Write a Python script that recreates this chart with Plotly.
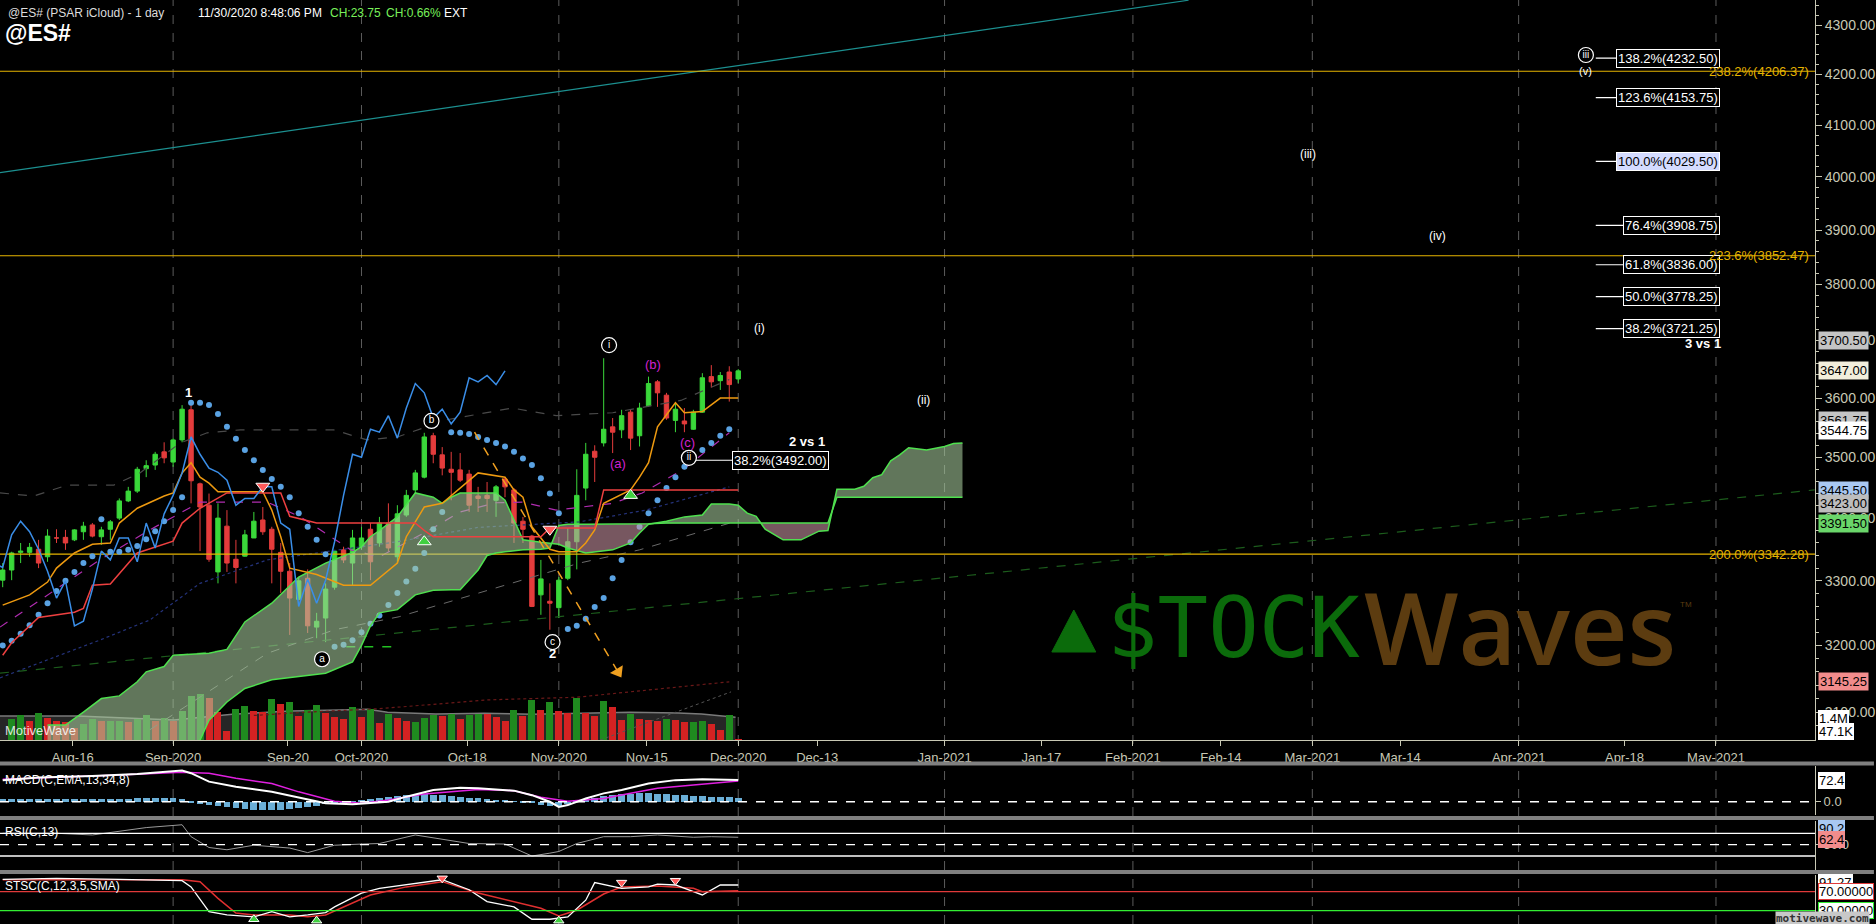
import numpy as np
import pandas as pd
import plotly.graph_objects as go

# ---------------- bar calendar ----------------
hist_days = pd.bdate_range("2020-08-03", "2020-12-01")
hist_days = hist_days[~hist_days.isin(pd.to_datetime(["2020-09-07", "2020-11-26"]))]
future_days = pd.bdate_range("2020-12-02", "2021-06-30")
all_days = hist_days.append(future_days)


def bar_pos(d):
    return float(all_days.searchsorted(pd.Timestamp(d)))


X_RANGE = [1.70, 204.04]

# ---------------- daily bars (Aug 5 2020 ... Dec 1 2020 session) ----------------
opens = [3301, 3317, 3345, 3345, 3350, 3338, 3368, 3369, 3365, 3378,
         3389, 3370, 3382, 3400, 3428, 3444, 3481, 3487, 3509, 3492,
         3529, 3580, 3456, 3421, 3314, 3387, 3334, 3339, 3368, 3397,
         3382, 3345, 3315, 3271, 3304, 3228, 3242, 3290, 3349, 3328,
         3354, 3382, 3360, 3392, 3338, 3405, 3446, 3467, 3536, 3504,
         3480, 3479, 3472, 3436, 3437, 3429, 3464, 3446, 3395, 3371,
         3278, 3268, 3258, 3304, 3362, 3449, 3510, 3524, 3551, 3546,
         3576, 3536, 3587, 3628, 3605, 3562, 3561, 3547, 3576, 3637,
         3630, 3645, 3633]
highs = [3328, 3346, 3360, 3360, 3365, 3382, 3382, 3381, 3382, 3394,
         3392, 3386, 3397, 3432, 3451, 3484, 3495, 3509, 3525, 3532,
         3588, 3593, 3458, 3440, 3424, 3413, 3365, 3381, 3410, 3418,
         3386, 3360, 3328, 3306, 3318, 3250, 3296, 3349, 3354, 3381,
         3386, 3392, 3402, 3424, 3421, 3446, 3479, 3541, 3541, 3517,
         3509, 3507, 3479, 3451, 3459, 3454, 3466, 3449, 3402, 3373,
         3333, 3296, 3306, 3384, 3480, 3524, 3520, 3669, 3566, 3580,
         3580, 3592, 3637, 3631, 3609, 3592, 3583, 3580, 3643, 3657,
         3645, 3655, 3650]
lows = [3290, 3301, 3328, 3338, 3320, 3330, 3360, 3349, 3363, 3365,
        3369, 3357, 3365, 3397, 3426, 3441, 3467, 3479, 3490, 3484,
        3525, 3424, 3347, 3330, 3296, 3314, 3296, 3338, 3368, 3373,
        3296, 3281, 3216, 3270, 3219, 3211, 3205, 3286, 3328, 3292,
        3349, 3301, 3354, 3346, 3328, 3402, 3441, 3465, 3490, 3470,
        3429, 3459, 3410, 3410, 3410, 3402, 3434, 3360, 3360, 3259,
        3247, 3224, 3242, 3301, 3318, 3429, 3459, 3518, 3507, 3532,
        3512, 3518, 3585, 3585, 3563, 3542, 3542, 3546, 3575, 3618,
        3614, 3594, 3626]
closes = [3317, 3344, 3347, 3353, 3328, 3371, 3368, 3360, 3381, 3387,
          3371, 3381, 3394, 3428, 3444, 3480, 3486, 3505, 3499, 3529,
          3581, 3461, 3418, 3334, 3400, 3328, 3321, 3373, 3395, 3378,
          3350, 3315, 3273, 3300, 3230, 3237, 3287, 3347, 3333, 3368,
          3368, 3330, 3392, 3352, 3407, 3437, 3474, 3534, 3505, 3482,
          3475, 3462, 3421, 3432, 3432, 3451, 3451, 3392, 3382, 3260,
          3303, 3265, 3301, 3362, 3437, 3505, 3500, 3547, 3542, 3570,
          3532, 3583, 3625, 3609, 3566, 3581, 3556, 3576, 3635, 3628,
          3639, 3623.25, 3647]
bar_x = bar_pos("2020-08-05") + np.arange(len(opens))

# volume (thousands), bars from Aug 6
volume_k = [1320, 1590, 1230, 1700, 1420, 1210, 1130, 780, 1020, 1340,
            1230, 1230, 1230, 1160, 1320, 1590, 1230, 1420, 1230, 1840,
            2800, 2930, 2690, 1800, 590, 1950, 2160, 1840, 1780, 2610,
            2290, 2400, 1550, 1910, 2230, 1700, 1480, 1340, 2080, 1480,
            1950, 1100, 1670, 1420, 1210, 1140, 1400, 1590, 1550, 1650,
            1350, 1570, 1650, 1650, 1480, 1230, 1910, 1550, 2540, 1910,
            2420, 1840, 1700, 2670, 1700, 1550, 2480, 2120, 1270, 1670,
            1340, 1270, 1210, 1340, 1270, 1140, 1140, 1210, 1040, 640,
            1590, 47]
volume_dir = ("GGRGRRRRGG" "RGGRGGRGRG" "GGRRRGGRRG" "RGRGGRRRGR" "GRGRRGGGRG"
              "RGGRRRGRGR" "GRRGRRGRRG" "RRRGRRGGRR" "GR")
vol_x = bar_pos("2020-08-06") + np.arange(len(volume_k))
vol_avg_x = [1.7, 10.3, 21.1, 27.6, 34.1, 39.5, 42.7, 44.9, 50.3, 55.7, 61.1, 66.5, 71.9, 77.3, 79.9, 83.7]
vol_avg_k = [1526, 1526, 1272, 1632, 1844, 1908, 1950, 1760, 1654, 1696, 1632, 1696, 1760, 1717, 1654, 1442]

# parabolic SAR (Aug 5 .. Nov 30)
psar = [3200, 3207, 3218, 3231, 3247, 3265, 3284, 3300, 3314, 3328,
        3339, 3398, 3346, 3346, 3349, 3355, 3366, 3379, 3395, 3413,
        3434, 3592, 3592, 3588, 3573, 3551, 3531, 3512, 3495, 3479,
        3464, 3451, 3434, 3408, 3386, 3365, 3342, 3198, 3201, 3208,
        3220, 3233, 3246, 3262, 3281, 3299, 3319, 3344, 3382, 3410,
        3542, 3541, 3539, 3534, 3529, 3524, 3518, 3509, 3498, 3487,
        3465, 3440, 3408, 3225, 3230, 3241, 3259, 3273, 3304, 3333,
        3361, 3386, 3408, 3429, 3449, 3467, 3484, 3499, 3512, 3524,
        3536, 3547]
psar_x = bar_pos("2020-08-05") + np.arange(len(psar))

# Ichimoku conversion / base lines
tenkan_x = [2, 5, 7, 8, 10, 12, 14, 15, 17, 20, 21, 22, 23, 24, 25, 26, 31, 32, 33, 34,
            37, 40, 43, 44, 46, 47, 49, 51, 55, 58, 59, 60, 61, 63, 64, 66, 67, 68, 69, 72,
            73, 74, 75, 77, 78, 80, 82, 84]
tenkan = [3262, 3278, 3298, 3320, 3344, 3358, 3360, 3392, 3416, 3436, 3441, 3474, 3491, 3467, 3457, 3443, 3443, 3413, 3370, 3320,
          3310, 3293, 3293, 3305, 3328, 3370, 3418, 3424, 3474, 3467, 3446, 3434, 3386, 3350, 3346, 3346, 3360, 3381, 3424, 3446,
          3467, 3491, 3551, 3592, 3575, 3577, 3600, 3600]
kijun_x = [2, 3, 6, 10, 11, 12, 14, 17, 21, 22, 24, 27, 33, 34, 37, 48, 49, 50, 62, 63, 68, 69, 84]
kijun = [3185, 3204, 3243, 3251, 3257, 3293, 3295, 3344, 3363, 3392, 3416, 3441, 3441, 3403, 3392, 3392, 3380, 3370, 3370, 3384, 3384, 3446, 3446]

# cloud spans
cloud_x = [7, 9, 11, 13, 15, 17, 18, 20, 21, 23, 24, 25, 27, 29, 32, 35, 38, 41, 42, 43,
           44, 46, 48, 50, 51, 52, 53, 55, 56, 57, 58, 59, 60, 62, 63, 64, 65, 67, 70, 72,
           73, 74, 76, 78, 80, 81, 83, 84, 85, 86, 87, 89, 91, 93, 94, 95, 97, 98, 99, 100,
           101, 102, 103, 105, 107, 108, 109]
senkou_a = [3081, 3081, 3100, 3120, 3124, 3145, 3160, 3168, 3185, 3187, 3188, 3188, 3194, 3236, 3265, 3306, 3328, 3345, 3354, 3370,
            3380, 3402, 3441, 3434, 3424, 3434, 3441, 3441, 3441, 3441, 3429, 3397, 3365, 3361, 3360, 3358, 3352, 3344, 3349, 3360,
            3376, 3390, 3395, 3402, 3405, 3423, 3423, 3421, 3408, 3403, 3382, 3365, 3365, 3379, 3380, 3447, 3447, 3452, 3466, 3471,
            3494, 3504, 3516, 3512, 3518, 3523, 3524]
senkou_b = [2950, 2955, 2960, 2965, 2970, 2975, 2980, 2990, 3000, 3030, 3059, 3088, 3115, 3135, 3148, 3153, 3158, 3175, 3200, 3230,
            3250, 3255, 3278, 3285, 3286, 3286, 3286, 3317, 3340, 3344, 3346, 3348, 3349, 3350, 3352, 3388, 3390, 3390, 3390, 3390,
            3391, 3391, 3392, 3392, 3392, 3392, 3392, 3392, 3392, 3392, 3392, 3392, 3392, 3392, 3392, 3434, 3434, 3434, 3434, 3434,
            3434, 3434, 3434, 3434, 3434, 3434, 3434]

# other overlays
upper_x = [1.7, 5.5, 9.2, 14.4, 17.3, 21.8, 24.8, 28.5, 38.9, 42.6, 46, 51.5, 58.8, 63.7, 70, 77.6, 83]
upper_v = [3441, 3436, 3454, 3454, 3474, 3524, 3541, 3546, 3546, 3529, 3534, 3563, 3583, 3570, 3575, 3596, 3632]
magenta_x = [1.7, 7.3, 12.8, 18.4, 24, 31.5, 35.2, 40.8, 44, 49.6, 53, 57, 60, 63.7, 70, 73.3, 77.8, 83]
magenta_v = [3228, 3281, 3333, 3381, 3426, 3426, 3402, 3349, 3338, 3381, 3410, 3425, 3426, 3413, 3424, 3441, 3479, 3541]
navy_x = [1.7, 12.8, 18.4, 24, 31.5, 40, 46, 55, 64, 66.3, 73.7, 83]
navy_v = [3151, 3208, 3239, 3296, 3333, 3350, 3362, 3385, 3392, 3394, 3413, 3451]
gray_x = [18.4, 24, 31.5, 39, 46.2, 55.1, 66.3, 73, 83.3]
gray_v = [3074, 3122, 3188, 3224, 3244, 3281, 3328, 3349, 3393]
darkred_x = [30, 36, 44, 56, 66, 76, 83]
darkred_v = [3095, 3100, 3105, 3118, 3122, 3135, 3145]
steep_x = [68.6, 83.2]
steep_v = [3059, 3130]
teal_x = [1.7, 134.2]
teal_v = [4008, 4351]
channel_x = [1.7, 204.0]
channel_v = [3158, 3446]
short_green_x = [40.3, 45.6]
short_green_v = [3198, 3198]
arrow_x = [54.6, 70.6]
arrow_v = [3542, 3160]

fib_levels = [4206.37, 3852.47, 3342.28]
fib_labels = ["238.2%(4206.37)", "223.6%(3852.47)", "200.0%(3342.28)"]
proj_levels = [4232.50, 4153.75, 4029.50, 3908.75, 3836.00, 3778.25, 3721.25]
proj_labels = ["138.2%(4232.50)", "123.6%(4153.75)", "100.0%(4029.50)", "76.4%(3908.75)",
               "61.8%(3836.00)", "50.0%(3778.25)", "38.2%(3721.25)"]

# lower panels
macd_x = [2, 6, 12, 17, 22, 23, 25, 28, 32, 35, 38, 41, 45, 47, 50, 53, 55, 59, 61, 63, 64, 65, 67, 69, 71, 74, 77, 80, 84]
macd_v = [72, 81, 86, 92, 104, 95, 67, 50, 33, 15, -5, -8, 0, 17, 39, 47, 45, 37, 22, 0, -17, -11, 11, 28, 39, 61, 72, 75, 72.4]
signal_x = [2, 8, 15, 22, 25, 28, 32, 35, 39, 42, 45, 49, 53, 55, 59, 62, 65, 69, 72, 75, 79, 84]
signal_v = [75, 81, 89, 98, 95, 78, 61, 33, 2, -5, 6, 26, 37, 41, 37, 15, 2, 11, 28, 45, 56, 69]
macd_hist = [9, 9, 9, 9, 9, 8, 8, 8, 8, 9, 9, 9, 10, 10, 10, 11, 12, 13, 13, 13, 10,
             -3, -6, -10, -14, -18, -21, -24, -26, -28, -28, -27, -25, -22, -18, -13, -9, -5, -2,
             2, 5, 9, 13, 17, 20, 22, 24, 25, 24, 22, 20, 17, 14, 11, 8, 5, 3, 1, -1,
             -5, -10, -14, -15, -9,
             3, 8, 13, 18, 22, 25, 27, 28, 28, 27, 26, 24, 22, 20, 18, 17, 16, 15, 14]
rsi_x = [2, 8, 12, 15, 18, 22, 23, 25, 27, 30, 34, 36, 39, 42, 44, 48, 51, 54, 58, 61, 63, 64, 66, 69, 72, 75, 79, 81, 84]
rsi_v = [70, 70, 67, 73, 80, 85, 64, 45, 41, 49, 44, 36, 49, 51, 52, 67, 59, 52, 51, 30, 35, 38, 52, 64, 64, 67, 63, 64, 63]
stk_x = [2, 8, 15, 22, 23, 25, 27, 30, 32, 34, 36, 38, 39, 42, 44, 48, 51, 54, 56, 59, 61, 63, 65, 67, 68, 71, 74, 75, 77, 80, 82, 84]
stk_v = [96, 98, 96, 93, 80, 28, 21, 17, 28, 17, 21, 26, 38, 67, 77, 88, 95, 74, 49, 38, 12, 12, 17, 52, 89, 77, 80, 86, 84, 63, 84, 84]
std_x = [2, 22, 24, 26, 28, 30, 34, 36, 38, 40, 43, 47, 51, 55, 59, 62, 64, 66, 69, 71, 75, 79, 80, 84]
std_v = [95, 95, 91, 56, 25, 21, 21, 17, 21, 38, 63, 80, 91, 67, 49, 35, 19, 31, 65, 80, 82, 77, 70, 72]

tick_labels = ["Aug-16", "Sep-2020", "Sep-20", "Oct-2020", "Oct-18", "Nov-2020", "Nov-15", "Dec-2020", "Dec-13",
               "Jan-2021", "Jan-17", "Feb-2021", "Feb-14", "Mar-2021", "Mar-14", "Apr-2021", "Apr-18", "May-2021"]
tick_dates = ["2020-08-16", "2020-09-01", "2020-09-20", "2020-10-01", "2020-10-18", "2020-11-01", "2020-11-15",
              "2020-12-01", "2020-12-13", "2021-01-01", "2021-01-17", "2021-02-01", "2021-02-14", "2021-03-01",
              "2021-03-14", "2021-04-01", "2021-04-18", "2021-05-01"]

# ---------------- styling helpers ----------------
BG = "black"
AXC = "#c8c8b4"
SANS = "Liberation Sans, Arial, sans-serif"
NARROW = SANS
PW, PH = 1817.0, 924.0
VOL_SCALE = 63.6  # thousand contracts per pixel


def pp(px, py):
    return px / PW, 1 - py / PH


L = np.log10
tick_pos = []
month_pos = []
for lab, d in zip(tick_labels, tick_dates):
    is_month = lab[-4:].isdigit()
    p = bar_pos(d) + (0.0 if is_month else -0.2)
    tick_pos.append(p)
    if is_month:
        month_pos.append(p)

fig = go.Figure()

# ---- volume (base axis, drawn underneath) ----
fig.add_trace(go.Bar(x=vol_x, y=volume_k, width=0.78,
                     marker=dict(color=["#1f8a1f" if c == "G" else "#d42222" for c in volume_dir], line=dict(width=0)),
                     xaxis="x", yaxis="y"))


# ---- background overlays on price axis ----
def pline(x, y, color, width=1, dash=None):
    fig.add_trace(go.Scatter(x=x, y=y, mode="lines", line=dict(color=color, width=width, dash=dash),
                             xaxis="x", yaxis="y2", hoverinfo="skip"))


pline(teal_x, teal_v, "#1c9090", 1.2)
pline(channel_x, channel_v, "#1c5c1c", 1.2, "dash")
pline(upper_x, upper_v, "#4a4a4a", 1.2, "dash")
pline(navy_x, navy_v, "#24327a", 1.2, "dot")
pline(gray_x, gray_v, "#6a6a6a", 1, "dash")
pline(darkred_x, darkred_v, "#6a1818", 1.2, "dot")
pline(steep_x, steep_v, "#555555", 1, "dot")
pline(magenta_x, magenta_v, "#b02cb0", 1.2, "dash")
pline(short_green_x, short_green_v, "#22c022", 1.5, "dash")
for lv in fib_levels:
    pline(X_RANGE, [lv, lv], "#e6b400", 1.2)

# ---- candles ----
fig.add_trace(go.Candlestick(x=bar_x, open=opens, high=highs, low=lows, close=closes,
                             increasing=dict(line=dict(color="#3ad83a", width=1), fillcolor="#3ad83a"),
                             decreasing=dict(line=dict(color="#e43c3c", width=1), fillcolor="#e43c3c"),
                             whiskerwidth=0, xaxis="x", yaxis="y2"))

# ---- PSAR ----
fig.add_trace(go.Scatter(x=psar_x, y=psar, mode="markers", marker=dict(color="#5aa2e2", size=6),
                         xaxis="x", yaxis="y2"))

# ---- cloud fill (split by sign) ----
cx = np.array(cloud_x, float)
la, lb = L(np.array(senkou_a, float)), L(np.array(senkou_b, float))
segments = []
sx, sa, sb = [cx[0]], [la[0]], [lb[0]]
sign = la[0] >= lb[0]
for i in range(1, len(cx)):
    s = la[i] >= lb[i]
    if s != sign:
        d0, d1 = la[i - 1] - lb[i - 1], la[i] - lb[i]
        t = d0 / (d0 - d1)
        xc = cx[i - 1] + t * (cx[i] - cx[i - 1])
        yc = la[i - 1] + t * (la[i] - la[i - 1])
        sx.append(xc); sa.append(yc); sb.append(yc)
        segments.append((sign, sx, sa, sb))
        sx, sa, sb = [xc], [yc], [yc]
        sign = s
    sx.append(cx[i]); sa.append(la[i]); sb.append(lb[i])
segments.append((sign, sx, sa, sb))
for sgn, sx, sa, sb in segments:
    px_ = list(sx) + list(sx)[::-1]
    py_ = list(10 ** np.array(sa)) + list(10 ** np.array(sb))[::-1]
    fig.add_trace(go.Scatter(x=px_, y=py_, mode="lines", line=dict(width=0), fill="toself",
                             fillcolor="rgba(167,203,157,0.58)" if sgn else "rgba(205,150,165,0.58)",
                             xaxis="x", yaxis="y2", hoverinfo="skip"))
pline(cloud_x, senkou_b, "#4fe04f", 1.5)
pline(cloud_x, senkou_a, "#4fe04f", 1.5)

# ---- ichimoku lines ----
pline(tenkan_x, tenkan, "#ee9a10", 1.5)
pline(kijun_x, kijun, "#ee4040", 1.5)
chikou_x = bar_x - 26
pline(chikou_x, closes, "#3a8ee8", 1.5)

# ---- dashed projection arrow ----
pline(arrow_x, arrow_v, "#f0a020", 1.5, "dash")
fig.add_trace(go.Scatter(x=[arrow_x[1]], y=[arrow_v[1]], mode="markers",
                         marker=dict(symbol="triangle-down", size=13, color="#f0a020", angle=-31),
                         xaxis="x", yaxis="y2"))

# ---- signal triangles ----
fig.add_trace(go.Scatter(x=[31, 63], y=[3452, 3382], mode="markers",
                         marker=dict(symbol="triangle-down", size=12, color="#ff5a5a", line=dict(color="white", width=1)),
                         xaxis="x", yaxis="y2"))
fig.add_trace(go.Scatter(x=[49, 72], y=[3362, 3437], mode="markers",
                         marker=dict(symbol="triangle-up", size=12, color="#40d040", line=dict(color="white", width=1)),
                         xaxis="x", yaxis="y2"))

# ---- fib connector lines ----
pline([78.5, 84], [3495, 3495], "white", 1.2)
for lv in proj_levels:
    pline([179.6, 186], [lv, lv], "white", 1.2)

# ---- circled wave labels ----
circ_x = [49.8, 37.6, 63.3, 69.6, 78.5, 178.5]
circ_v = [3561, 3179, 3205, 3692, 3499, 4239]
circ_t = ["b", "a", "c", "i", "ii", "iii"]
fig.add_trace(go.Scatter(x=circ_x, y=circ_v, mode="markers+text", text=circ_t, textposition="middle center",
                         textfont=dict(color="white", size=10, family=SANS),
                         marker=dict(symbol="circle", size=15, color="black", line=dict(color="white", width=1.2)),
                         xaxis="x", yaxis="y2", cliponaxis=False))

# ---- lower panels ----
fig.add_trace(go.Bar(x=bar_x, y=macd_hist, width=0.75, marker=dict(color="#6aaed6", line=dict(width=0)),
                     xaxis="x", yaxis="y3"))
fig.add_trace(go.Scatter(x=signal_x, y=signal_v, mode="lines", line=dict(color="#e020e0", width=1.5), xaxis="x", yaxis="y3"))
fig.add_trace(go.Scatter(x=macd_x, y=macd_v, mode="lines", line=dict(color="white", width=2), xaxis="x", yaxis="y3"))
fig.add_trace(go.Scatter(x=rsi_x, y=rsi_v, mode="lines", line=dict(color="#9a9a9a", width=1), xaxis="x", yaxis="y4"))
fig.add_trace(go.Scatter(x=std_x, y=std_v, mode="lines", line=dict(color="#e03030", width=1.5), xaxis="x", yaxis="y5"))
fig.add_trace(go.Scatter(x=stk_x, y=stk_v, mode="lines", line=dict(color="white", width=1.3), xaxis="x", yaxis="y5"))
fig.add_trace(go.Scatter(x=[30, 37, 64], y=[12, 9, 9], mode="markers",
                         marker=dict(symbol="triangle-up", size=9, color="#40d040", line=dict(color="white", width=1)),
                         xaxis="x", yaxis="y5", cliponaxis=False))
fig.add_trace(go.Scatter(x=[51, 71, 77], y=[98, 89, 93], mode="markers",
                         marker=dict(symbol="triangle-down", size=9, color="#ff5a5a", line=dict(color="white", width=1)),
                         xaxis="x", yaxis="y5", cliponaxis=False))

# ---------------- shapes ----------------
shapes = []
# average-volume band behind the volume bars
band = " ".join(f"L {x},{v}" for x, v in zip(vol_avg_x, vol_avg_k))
shapes.append(dict(type="path", xref="x", yref="y", layer="below",
                   path=f"M {vol_avg_x[0]},0 {band} L {vol_avg_x[-1]},0 Z",
                   fillcolor="#262626", line=dict(width=0)))
avg_line = "M " + " L ".join(f"{x},{v}" for x, v in zip(vol_avg_x, vol_avg_k))
shapes.append(dict(type="path", xref="x", yref="y", layer="below", path=avg_line,
                   line=dict(color="#7a7a7a", width=1.5)))
for mp in month_pos:
    shapes.append(dict(type="line", xref="x", yref="paper", x0=mp, x1=mp, y0=0, y1=1, layer="below",
                       line=dict(color="#5c5c5c", width=1, dash="dash")))
for yref, val, col, dash in [("y3", 0, "white", "dash"), ("y4", 70, "white", None), ("y4", 50, "white", "dash"),
                             ("y4", 30, "white", None), ("y5", 70, "#e03a3a", None), ("y5", 30, "#33ee33", None)]:
    shapes.append(dict(type="line", xref="paper", yref=yref, x0=0, x1=1, y0=val, y1=val,
                       line=dict(color=col, width=1.3, dash=dash)))
for top, bot in [(761.5, 765.5), (816, 820), (870, 874)]:
    shapes.append(dict(type="rect", xref="paper", yref="paper", x0=0, x1=1876 / PW,
                       y0=1 - bot / PH, y1=1 - top / PH, fillcolor="#808080", line=dict(width=0)))
# logo triangle
t1, t2, t3 = pp(1053, 652), pp(1097, 652), pp(1075, 610)
shapes.append(dict(type="path", xref="paper", yref="paper",
                   path=f"M {t1[0]},{t1[1]} L {t2[0]},{t2[1]} L {t3[0]},{t3[1]} Z",
                   fillcolor="#0b6b0b", line=dict(color="#0b6b0b", width=1)))

# ---------------- annotations ----------------
ann = []


def ptxt(px, py, text, color="white", size=13, family=NARROW, xanchor="left", weight=None, **kw):
    x, y = pp(px, py)
    font = dict(color=color, size=size, family=family)
    if weight:
        font["weight"] = weight
    ann.append(dict(x=x, y=y, xref="paper", yref="paper", text=text, showarrow=False, xanchor=xanchor,
                    yanchor="middle", font=font, **kw))


def dtxt(xi, price, text, color="white", size=13, family=SANS, **kw):
    ann.append(dict(x=xi, y=L(price), xref="x", yref="y2", text=text, showarrow=False,
                    font=dict(color=color, size=size, family=family), **kw))


# header
ptxt(6, 13, "@ES# (PSAR iCloud) - 1 day", "#dcdcdc", 12)
ptxt(196, 13, "11/30/2020 8:48:06 PM", "white", 12)
ptxt(328, 13, "CH:23.75", "#78f05a", 12)
ptxt(384, 13, "CH:0.66%", "#78f05a", 12)
ptxt(442, 13, "EXT", "white", 12)
ptxt(3, 33, "<b>@ES#</b>", "white", 23, SANS)

# wave labels
dtxt(22.7, 3609, "<b>1</b>", size=13)
dtxt(63.3, 3187, "<b>2</b>", size=13)
dtxt(70.6, 3490, "(a)", "#d020d0", 13)
dtxt(74.5, 3658, "(b)", "#d020d0", 13)
dtxt(78.3, 3525, "(c)", "#d020d0", 13)
dtxt(86.4, 3723, "(i)", size=12)
dtxt(104.7, 3597, "(ii)", size=12)
dtxt(147.5, 4044, "(iii)", size=12)
dtxt(162.0, 3888, "(iv)", size=12)
dtxt(178.5, 4207, "(v)", size=11)
dtxt(91.7, 3526, "<b>2 vs 1</b>", size=13)
dtxt(191.6, 3694, "<b>3 vs 1</b>", size=13)
dtxt(83.3, 3495, "38.2%(3492.00)", size=13, xanchor="left", bgcolor="black", bordercolor="white",
     borderwidth=1, borderpad=1)

# projection boxes
for lv, lab in zip(proj_levels, proj_labels):
    hi = lab.startswith("100.0")
    dtxt(193.4, lv, lab, "black" if hi else "white", 13, xanchor="right",
         bgcolor="#d4dbff" if hi else "black", bordercolor="white", borderwidth=1, borderpad=1)

# fib line labels
for lv, lab in zip(fib_levels, fib_labels):
    ann.append(dict(x=1813 / PW, y=L(lv), xref="paper", yref="y2", text=lab, showarrow=False,
                    xanchor="right", yanchor="middle", font=dict(color="#e6b400", size=13, family=SANS)))

# right-edge value tags
tag_vals = [3700.50, 3647.00, 3561.75, 3544.75, 3445.50, 3423.00, 3391.50, 3145.25]
tag_cols = ["#c4c4c4", "#f2eedc", "#c4c4c4", "#ffffff", "#a9c8f2", "#bdbdbd", "#6ad66a", "#f28c8c"]
for v, c in zip(tag_vals, tag_cols):
    ann.append(dict(x=1820 / PW, y=L(v), xref="paper", yref="y2", text=f"{v:.2f}", showarrow=False,
                    xanchor="left", yanchor="middle", bgcolor=c, borderpad=1,
                    font=dict(color="black", size=13, family=SANS)))
for py, t, c, bc in [(718, "1.4M", "white", "white"), (731, "47.1K", "white", "white"),
                     (780, "72.4", "white", "white"), (828, "90.2", "#a9c8f2", "#a9c8f2"),
                     (839, "62.4", "#f28c8c", "#f28c8c"), (882, "91.27", "white", "white"),
                     (891.7, "70.00000", "white", "#e03a3a"), (910.7, "30.00000", "white", "#33ee33")]:
    x, y = pp(1820, py)
    ann.append(dict(x=x, y=y, xref="paper", yref="paper", text=t, showarrow=False, xanchor="left",
                    yanchor="middle", bgcolor=c, bordercolor=bc, borderwidth=1, borderpad=0,
                    font=dict(color="black", size=13, family=SANS)))

# panel titles
ptxt(3, 780, "MACD(C,EMA,13,34,8)", "white", 12)
ptxt(3, 832, "RSI(C,13)", "white", 12)
ptxt(3, 886, "STSC(C,12,3,5,SMA)", "white", 12)
ptxt(3, 730, "MotiveWave", "rgba(255,255,255,0.85)", 13)
ptxt(1777, 918, "<b>motivewave.com</b>", "#333333", 11, "DejaVu Sans Mono, monospace", bgcolor="#c8c8c8", borderpad=0)

# logo
ptxt(1106, 628, "$TOCK", "#0b6b0b", 84, "DejaVu Sans Mono, monospace")
ptxt(1364, 626, "Waves", "#5c3c10", 100, "Open Sans, sans-serif", weight=600)
ptxt(1680, 604, "TM", "#5c3c10", 8, SANS)

# ---------------- layout ----------------
price_ticks = list(range(3100, 4400, 100))
minor_ticks = [v for v in range(3080, 4360, 20) if v % 100]
fig.update_layout(
    width=1876, height=924, autosize=False,
    paper_bgcolor=BG, plot_bgcolor=BG, showlegend=False,
    margin=dict(l=0, r=59, t=0, b=0),
    xaxis=dict(range=X_RANGE, anchor="y", tickvals=tick_pos, ticktext=tick_labels,
               tickfont=dict(color=AXC, size=13, family=NARROW), ticks="outside", ticklen=5,
               tickcolor=AXC, showline=True, linecolor=AXC, showgrid=False, zeroline=False,
               rangeslider=dict(visible=False), fixedrange=True),
    yaxis=dict(domain=[1 - 740 / PH, 1], range=[0, 740 * VOL_SCALE], visible=False, fixedrange=True),
    yaxis2=dict(overlaying="y", side="right", type="log", range=[3.485588, 3.638639],
                tickvals=price_ticks, ticktext=[f"{v:.2f}" for v in price_ticks],
                tickfont=dict(color=AXC, size=14, family=SANS), ticks="outside", ticklen=6, tickcolor=AXC,
                showline=True, linecolor=AXC, showgrid=False, zeroline=False,
                minor=dict(tickmode="array", tickvals=minor_ticks, ticks="outside", ticklen=3, tickcolor=AXC)),
    yaxis3=dict(domain=[1 - 815 / PH, 1 - 766 / PH], range=[-44, 119], anchor="x", side="right",
                tickvals=[0], ticktext=["0.0"], tickfont=dict(color=AXC, size=13, family=SANS),
                ticks="outside", ticklen=5, tickcolor=AXC, showline=True, linecolor=AXC,
                showgrid=False, zeroline=False),
    yaxis4=dict(domain=[1 - 870 / PH, 1 - 821 / PH], range=[5.4, 91.6], anchor="x", side="right",
                tickvals=[50], ticktext=["50.0"], tickfont=dict(color=AXC, size=13, family=SANS),
                ticks="outside", ticklen=5, tickcolor=AXC, showline=True, linecolor=AXC,
                showgrid=False, zeroline=False),
    yaxis5=dict(domain=[0, 1 - 875 / PH], range=[2, 105], anchor="x", side="right",
                tickvals=[], showline=True, linecolor=AXC, showgrid=False, zeroline=False),
    shapes=shapes, annotations=ann, bargap=0,
)

fig.write_html("out.html", config={"displayModeBar": False},
               post_script="document.body.style.margin='0';document.body.style.overflow='hidden';")
